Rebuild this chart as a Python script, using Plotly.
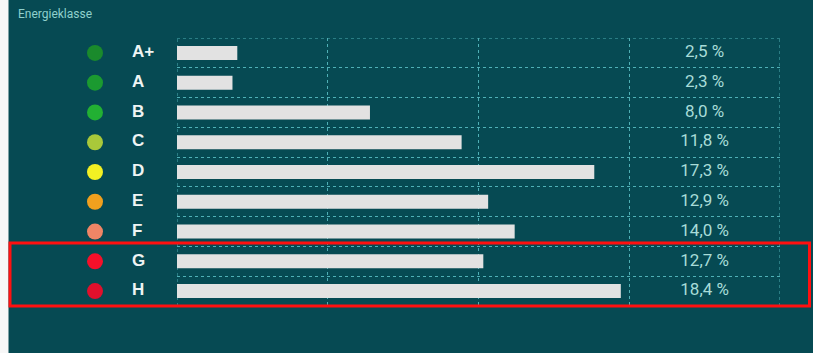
import plotly.graph_objects as go

categories = ["A+", "A", "B", "C", "D", "E", "F", "G", "H"]
values = [2.5, 2.3, 8.0, 11.8, 17.3, 12.9, 14.0, 12.7, 18.4]
dot_colors = ["#1a8a2c", "#1b9a30", "#22b033", "#a9c83a", "#f2f023",
              "#f0a01e", "#ef8566", "#f5102a", "#e0102c"]
value_labels = ["2,5 %", "2,3 %", "8,0 %", "11,8 %", "17,3 %", "12,9 %", "14,0 %", "12,7 %", "18,4 %"]
title_text = "Energieklasse"
x_grid = [0, 6.25, 12.5, 18.75, 25]

BG = "#064a53"
GRID = "#4fb0b6"
W, H = 813, 353
ML, MR, MT, MB = 0, 33, 38, 47
plot_w = W - ML - MR
plot_h = H - MT - MB
bar_left = 177
split = bar_left / plot_w

idx = list(range(len(categories)))

fig = go.Figure()

fig.add_trace(go.Bar(
    x=values, y=idx, orientation="h", width=0.47,
    marker=dict(color="#e2e2e2", line=dict(width=0)),
    xaxis="x", yaxis="y", hoverinfo="skip", showlegend=False,
))

fig.add_trace(go.Scatter(
    x=[21.875] * len(idx), y=idx, mode="text", text=value_labels,
    textfont=dict(family="Roboto", size=17, color="#a8dcd8"),
    xaxis="x", yaxis="y", hoverinfo="skip", showlegend=False,
))

fig.add_trace(go.Scatter(
    x=[95] * len(idx), y=idx, mode="markers",
    marker=dict(size=16, color=dot_colors, line=dict(width=0)),
    xaxis="x2", yaxis="y2", hoverinfo="skip", showlegend=False,
))

fig.add_trace(go.Scatter(
    x=[132] * len(idx), y=idx, mode="text", text=categories,
    textposition="middle right",
    textfont=dict(family="Liberation Sans", size=17, color="#eef4f4", weight="bold"),
    xaxis="x2", yaxis="y2", hoverinfo="skip", showlegend=False,
))

n = len(idx)
yr = [n - 0.5, -0.5]
boundaries = [i - 0.5 for i in range(n + 1)]

grid_line = dict(color=GRID, width=1, dash="dot")
shapes = []
for xv in (x_grid[0], x_grid[-1]):
    shapes.append(dict(type="line", xref="x", yref="paper", x0=xv, x1=xv, y0=0, y1=1,
                       line=grid_line, layer="below"))
for yv in (boundaries[0], boundaries[-1]):
    shapes.append(dict(type="line", xref="x domain", yref="y", x0=0, x1=1, y0=yv, y1=yv,
                       line=grid_line, layer="below"))
shapes.append(dict(type="rect", xref="paper", yref="paper",
                   x0=0, x1=8.5 / plot_w, y0=-MB / plot_h, y1=1 + MT / plot_h,
                   fillcolor="#f7f7f7", line=dict(width=0), layer="above"))
shapes.append(dict(type="rect", xref="paper", yref="paper",
                   x0=10 / plot_w, x1=809.5 / plot_w,
                   y0=(H - MB - 306) / plot_h, y1=(H - MB - 243) / plot_h,
                   fillcolor="rgba(0,0,0,0)", line=dict(color="#ff1010", width=3), layer="above"))

fig.update_layout(
    width=W, height=H,
    margin=dict(l=ML, r=MR, t=MT, b=MB),
    paper_bgcolor=BG, plot_bgcolor=BG,
    title=dict(text=title_text, x=18 / W, xanchor="left", y=1 - 14 / H, yanchor="middle",
               font=dict(family="Roboto", size=12, color="#8fd0cc")),
    xaxis=dict(domain=[split, 1], range=[x_grid[0], x_grid[-1]], tickvals=x_grid,
               showticklabels=False, showgrid=True, gridcolor=GRID, griddash="dot", gridwidth=1,
               zeroline=False, showline=False, anchor="y", fixedrange=True),
    yaxis=dict(range=yr, tickvals=boundaries, showticklabels=False, showgrid=True,
               gridcolor=GRID, griddash="dot", gridwidth=1, zeroline=False, anchor="x",
               fixedrange=True),
    xaxis2=dict(domain=[0, split], range=[0, bar_left], showticklabels=False, showgrid=False,
                zeroline=False, anchor="y2", fixedrange=True),
    yaxis2=dict(range=yr, showticklabels=False, showgrid=False, zeroline=False,
                anchor="x2", fixedrange=True),
    shapes=shapes,
)

fig.write_html("out.html", config={"displayModeBar": False},
               post_script="document.body.style.margin='0';document.body.style.background='" + BG + "';")
